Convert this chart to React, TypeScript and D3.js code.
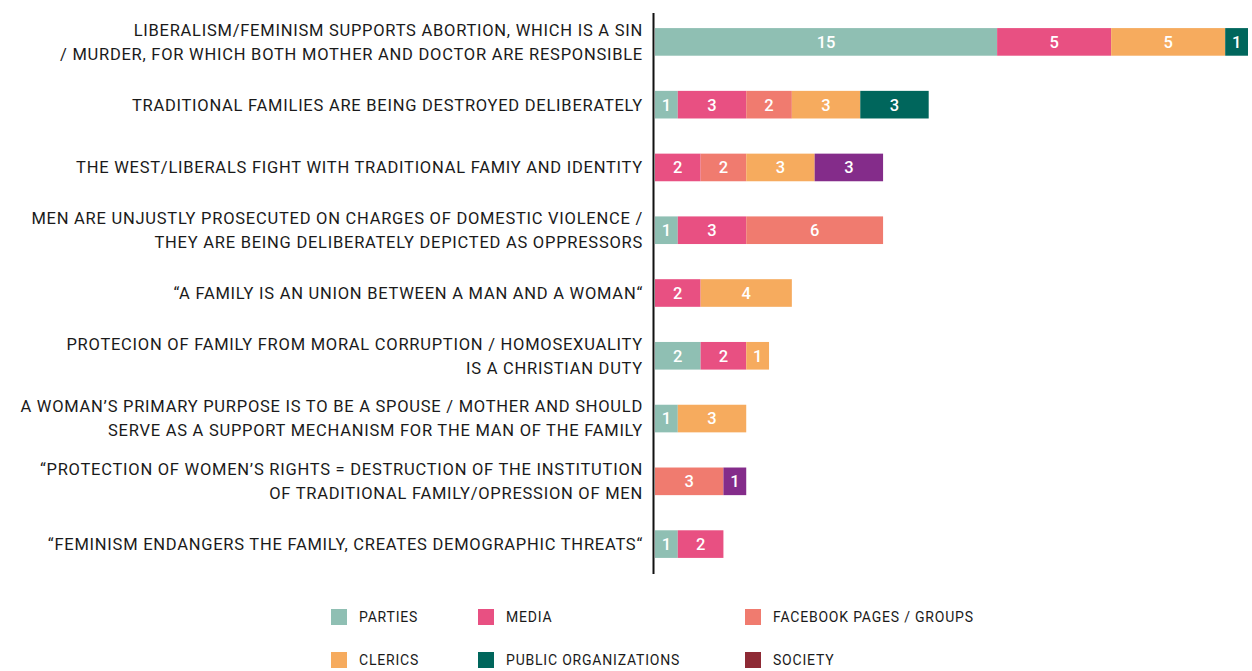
import React, { useEffect, useRef } from "react";
import * as d3 from "d3";

// statements (y categories), top to bottom
const statements = [
  ["LIBERALISM/FEMINISM SUPPORTS ABORTION, WHICH IS A SIN", "/ MURDER, FOR WHICH BOTH MOTHER AND DOCTOR ARE RESPONSIBLE"],
  ["TRADITIONAL FAMILIES ARE BEING DESTROYED DELIBERATELY"],
  ["THE WEST/LIBERALS FIGHT WITH TRADITIONAL FAMIY AND IDENTITY"],
  ["MEN ARE UNJUSTLY PROSECUTED ON CHARGES OF DOMESTIC VIOLENCE /", "THEY ARE BEING DELIBERATELY DEPICTED AS OPPRESSORS"],
  ["\u201CA FAMILY IS AN UNION BETWEEN A MAN AND A WOMAN\u201C"],
  ["PROTECION OF FAMILY FROM MORAL CORRUPTION / HOMOSEXUALITY", "IS A CHRISTIAN DUTY"],
  ["A WOMAN\u2019S PRIMARY PURPOSE IS TO BE A SPOUSE / MOTHER AND SHOULD", "SERVE AS A SUPPORT MECHANISM FOR THE MAN OF THE FAMILY"],
  ["\u201CPROTECTION OF WOMEN\u2019S RIGHTS = DESTRUCTION OF THE INSTITUTION", "OF TRADITIONAL FAMILY/OPRESSION OF MEN"],
  ["\u201CFEMINISM ENDANGERS THE FAMILY, CREATES DEMOGRAPHIC THREATS\u201C"],
];

// series values, one per statement
const parties = [15, 1, 0, 1, 0, 2, 1, 0, 1];
const media = [5, 3, 2, 3, 2, 2, 0, 0, 2];
const facebook = [0, 2, 2, 6, 0, 0, 0, 3, 0];
const clerics = [5, 3, 3, 0, 4, 1, 3, 0, 0];
const publicOrgs = [1, 3, 0, 0, 0, 0, 0, 0, 0];
const society = [0, 0, 3, 0, 0, 0, 0, 1, 0];

const seriesNames = ["PARTIES", "MEDIA", "FACEBOOK PAGES / GROUPS", "CLERICS", "PUBLIC ORGANIZATIONS", "SOCIETY"];
const seriesValues = [parties, media, facebook, clerics, publicOrgs, society];
const barColors = ["#8fbfb3", "#e85082", "#f07b6f", "#f6ab5e", "#00665c", "#842c8a"];
const legendColors = ["#8fbfb3", "#e85082", "#f07b6f", "#f6ab5e", "#00665c", "#8e2a35"];

const W = 1252;
const H = 671;
const FONT = "Roboto, 'Open Sans', sans-serif";

export default function App() {
  const ref = useRef<SVGSVGElement>(null);

  useEffect(() => {
    const svg = d3.select(ref.current);
    svg.selectAll("*").remove();

    const rows = statements.map((s, i) => {
      const r: any = { id: i };
      seriesNames.forEach((n, j) => (r[n] = seriesValues[j][i]));
      return r;
    });
    const stack = d3.stack<any>().keys(seriesNames)(rows);

    const x = d3.scaleLinear().domain([0, 26]).range([655, 1248]);
    const y = d3
      .scaleBand<number>()
      .domain(d3.range(statements.length))
      .range([8, 578])
      .paddingInner(0.56)
      .paddingOuter(0.32);

    const g = svg.append("g");

    stack.forEach((layer, j) => {
      const seg = g
        .append("g")
        .selectAll("g")
        .data(layer.filter((d) => d[1] - d[0] > 0))
        .join("g");
      seg
        .append("rect")
        .attr("x", (d) => x(d[0]))
        .attr("y", (d) => y(d.data.id)!)
        .attr("width", (d) => x(d[1]) - x(d[0]))
        .attr("height", y.bandwidth())
        .attr("fill", barColors[j]);
      seg
        .append("text")
        .attr("x", (d) => (x(d[0]) + x(d[1])) / 2)
        .attr("y", (d) => y(d.data.id)! + y.bandwidth() / 2)
        .attr("dy", "0.36em")
        .attr("text-anchor", "middle")
        .attr("fill", "#fff")
        .attr("font-family", FONT)
        .attr("font-weight", 500)
        .attr("font-size", 16.5)
        .text((d) => d[1] - d[0]);
    });

    // category labels
    const labels = g
      .append("g")
      .selectAll("text")
      .data(statements)
      .join("text")
      .attr("text-anchor", "end")
      .attr("font-family", FONT)
      .attr("font-size", 16.5)
      .attr("letter-spacing", 0.75)
      .attr("fill", "#1a1a1a");
    labels.each(function (lines, i) {
      const cy = y(i)! + y.bandwidth() / 2;
      const lh = 24;
      d3.select(this)
        .selectAll("tspan")
        .data(lines)
        .join("tspan")
        .attr("x", 643)
        .attr("y", (_, k) => cy + (k - (lines.length - 1) / 2) * lh)
        .attr("dy", "0.36em")
        .text((t) => t);
    });

    // axis line
    g.append("line")
      .attr("x1", 653.5)
      .attr("x2", 653.5)
      .attr("y1", 13)
      .attr("y2", 574)
      .attr("stroke", "#111")
      .attr("stroke-width", 2);

    // legend
    const colX = [331, 478, 745];
    const rowY = [617, 660];
    const leg = g
      .append("g")
      .selectAll("g")
      .data(seriesNames)
      .join("g")
      .attr("transform", (_, i) => `translate(${colX[i % 3]},${rowY[Math.floor(i / 3)]})`);
    leg
      .append("rect")
      .attr("x", 0)
      .attr("y", -8)
      .attr("width", 16)
      .attr("height", 16)
      .attr("fill", (_, i) => legendColors[i]);
    leg
      .append("text")
      .attr("x", 28)
      .attr("dy", "0.35em")
      .attr("font-family", FONT)
      .attr("font-size", 14)
      .attr("letter-spacing", 0.8)
      .attr("fill", "#1a1a1a")
      .text((d) => d);
  }, []);

  return (
    <svg
      ref={ref}
      width={W}
      height={H}
      style={{ position: "absolute", left: 0, top: 0, background: "#fff" }}
    />
  );
}
